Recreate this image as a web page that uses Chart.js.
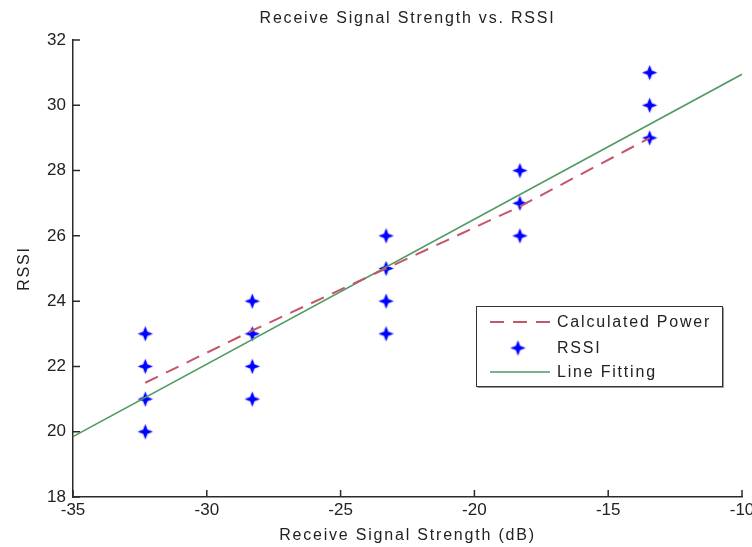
<!DOCTYPE html>
<html>
<head>
<meta charset="utf-8">
<script src="https://cdn.jsdelivr.net/npm/chart.js@4.4.1/dist/chart.umd.min.js"></script>
<style>
  html, body { margin: 0; padding: 0; background: #fff; }
  #wrap { width: 752px; height: 547px; position: relative; }
</style>
</head>
<body>
<div id="wrap"><canvas id="myChart"></canvas></div>
<script>
// values
const signalLevels = [-32.3, -28.3, -23.3, -18.3, -13.45];
const rssiReadings = [
  [20, 21, 22, 23],
  [21, 22, 23, 24],
  [23, 24, 25, 26],
  [26, 27, 28],
  [29, 30, 31],
];
const calculatedPower = [21.5, 23.1, 25.0, 26.9, 29.0];
const fitX = [-35, -10];
const fitY = [19.85, 30.95];
const xTicks = [-35, -30, -25, -20, -15, -10];
const yTicks = [18, 20, 22, 24, 26, 28, 30, 32];

const titleText = "Receive Signal Strength vs. RSSI";
const xLabel = "Receive Signal Strength (dB)";
const yLabel = "RSSI";
const seriesNames = ["Calculated Power", "RSSI", "Line Fitting"];

const fontFamily = '"Liberation Sans", Arial, sans-serif';
const axisColor = "#2a2a2a";
const textColor = "#222";

// 4 point star marker, like the blurred matlab '*'
const makeStar = () => {
  let c = document.createElement("canvas");
  c.width = 17;
  c.height = 17;
  let g = c.getContext("2d");
  g.fillStyle = "#0000ff";
  g.shadowColor = "rgba(0,0,255,0.6)";
  g.shadowBlur = 1.5;
  g.beginPath();
  for (let i = 0; i < 8; i++) {
    let a = (i * Math.PI) / 4 - Math.PI / 2;
    let r = i % 2 == 0 ? 7.5 : 2.9;
    g.lineTo(8.5 + r * Math.cos(a), 8.5 + r * Math.sin(a));
  }
  g.closePath();
  g.fill();
  return c;
};
const star = makeStar();

const rssiPoints = signalLevels.flatMap((x, i) => rssiReadings[i].map((y) => ({ x, y })));
const powerPoints = signalLevels.map((x, i) => ({ x, y: calculatedPower[i] }));
const fitPoints = fitX.map((x, i) => ({ x, y: fitY[i] }));

const drawText = (ctx, text, x, y) => {
  ctx.fillText(text, x, y);
};

const decorations = {
  id: "decorations",
  beforeDatasetsDraw(chart) {
    const { ctx, chartArea, scales } = chart;
    ctx.save();
    ctx.strokeStyle = axisColor;
    ctx.lineWidth = 1.5;
    ctx.beginPath();
    scales.x.ticks.forEach((t) => {
      let px = scales.x.getPixelForValue(t.value);
      ctx.moveTo(px, chartArea.bottom);
      ctx.lineTo(px, chartArea.bottom - 7);
    });
    scales.y.ticks.forEach((t) => {
      let py = scales.y.getPixelForValue(t.value);
      ctx.moveTo(chartArea.left, py);
      ctx.lineTo(chartArea.left + 7, py);
    });
    ctx.stroke();
    ctx.restore();
  },
  afterDraw(chart) {
    const { ctx, chartArea } = chart;
    const ds = chart.data.datasets;
    ctx.save();
    ctx.letterSpacing = "1.8px";
    ctx.font = "16px " + fontFamily;
    ctx.fillStyle = textColor;
    ctx.textAlign = "center";
    ctx.textBaseline = "alphabetic";
    let cx = (chartArea.left + chartArea.right) / 2;
    drawText(ctx, titleText, cx, 23);
    drawText(ctx, xLabel, cx, 540);

    ctx.save();
    ctx.translate(29, (chartArea.top + chartArea.bottom) / 2);
    ctx.rotate(-Math.PI / 2);
    drawText(ctx, yLabel, 0, 0);
    ctx.restore();

    // legend box
    let bx = 476.5, by = 306.5, bw = 246, bh = 80;
    ctx.fillStyle = "#fff";
    ctx.fillRect(bx, by, bw, bh);
    ctx.strokeStyle = "#999";
    ctx.lineWidth = 1;
    ctx.beginPath();
    ctx.moveTo(bx + 1, by + bh + 1);
    ctx.lineTo(bx + bw + 1, by + bh + 1);
    ctx.lineTo(bx + bw + 1, by + 1);
    ctx.stroke();
    ctx.strokeStyle = "#333";
    ctx.strokeRect(bx, by, bw, bh);

    let rows = [322, 348, 372];
    ctx.lineWidth = ds[0].borderWidth;
    ctx.strokeStyle = ds[0].borderColor;
    ctx.setLineDash(ds[0].borderDash);
    ctx.beginPath();
    ctx.moveTo(490, rows[0]);
    ctx.lineTo(550, rows[0]);
    ctx.stroke();
    ctx.setLineDash([]);
    ctx.drawImage(star, 518 - 8.5, rows[1] - 8.5);
    ctx.lineWidth = ds[2].borderWidth;
    ctx.strokeStyle = ds[2].borderColor;
    ctx.beginPath();
    ctx.moveTo(490, rows[2]);
    ctx.lineTo(550, rows[2]);
    ctx.stroke();

    ctx.fillStyle = textColor;
    ctx.textAlign = "left";
    ctx.textBaseline = "middle";
    seriesNames.forEach((name, i) => drawText(ctx, name, 557, rows[i] + 1));
    ctx.restore();
  },
};

let myChart = document.getElementById("myChart").getContext("2d");
new Chart(myChart, {
  type: "scatter",
  data: {
    datasets: [
      {
        label: seriesNames[0],
        data: powerPoints,
        showLine: true,
        borderColor: "#c4566a",
        borderWidth: 2,
        borderDash: [14, 9],
        pointRadius: 0,
        order: 1,
      },
      {
        label: seriesNames[1],
        data: rssiPoints,
        pointStyle: star,
        pointRadius: 8,
        showLine: false,
        order: 3,
      },
      {
        label: seriesNames[2],
        data: fitPoints,
        showLine: true,
        borderColor: "#4f9a63",
        borderWidth: 1.6,
        pointRadius: 0,
        order: 2,
      },
    ],
  },
  options: {
    responsive: true,
    maintainAspectRatio: false,
    animation: false,
    layout: { padding: { top: 40, right: 10, left: 0, bottom: 0 } },
    plugins: { legend: { display: false }, title: { display: false }, tooltip: { enabled: false } },
    scales: {
      x: {
        type: "linear",
        min: -35,
        max: -10,
        grid: { display: false, drawTicks: false },
        border: { display: true, color: axisColor, width: 1.5 },
        afterBuildTicks: (s) => {
          s.ticks = xTicks.map((v) => ({ value: v }));
        },
        afterFit: (s) => {
          s.height = 50;
          s.paddingRight = 10;
        },
        ticks: {
          padding: 3,
          color: textColor,
          font: { family: fontFamily, size: 17 },
          maxRotation: 0,
        },
      },
      y: {
        type: "linear",
        min: 18,
        max: 32,
        grid: { display: false, drawTicks: false },
        border: { display: true, color: axisColor, width: 1.5 },
        afterBuildTicks: (s) => {
          s.ticks = yTicks.map((v) => ({ value: v }));
        },
        afterFit: (s) => {
          s.width = 73;
        },
        ticks: {
          padding: 7,
          color: textColor,
          font: { family: fontFamily, size: 17 },
        },
      },
    },
  },
  plugins: [decorations],
});
</script>
</body>
</html>
